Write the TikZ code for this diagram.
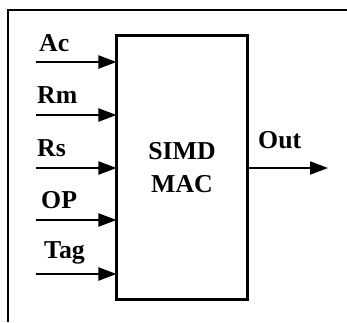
\documentclass[tikz,border=0pt]{standalone}
\usepackage{fontspec}
\setmainfont{Liberation Serif}
\usetikzlibrary{arrows.meta,positioning}

\begin{document}
\begin{tikzpicture}[x=0.03cm, y=-0.03cm,
    unit/.style={rectangle, draw=black, line width=1.8pt, minimum width=3.93cm, minimum height=7.92cm, align=center, inner sep=0pt, outer sep=0pt, font=\fontsize{22}{28}\selectfont\bfseries},
    sig/.style={anchor=base west, inner sep=0pt, font=\fontsize{22}{24}\selectfont\bfseries},
    wire/.style={-{Triangle[length=0.54cm, width=0.39cm]}, line width=1.7pt}]

\useasboundingbox (0,0) rectangle (347,322);
\draw[line width=1.8pt] (8,322) -- (8,10) -- (347,10);

\node[unit] (mac) at (182,167.5) {SIMD\\MAC};

% inputs
\coordinate (ac) at (36,62);
\coordinate (rm) at (36,115);
\coordinate (rs) at (36,168);
\coordinate (op) at (36,220);
\coordinate (tag) at (36,274);

\node[sig] (acl) at (39,51) {Ac};
\node[sig] (rml) at (37,103) {Rm};
\node[sig] (rsl) at (37,156) {Rs};
\node[sig] (opl) at (41,208) {OP};
\node[sig] (tagl) at (44,258) {Tag};

\draw[wire] (ac) -- (ac -| mac.west);
\draw[wire] (rm) -- (rm -| mac.west);
\draw[wire] (rs) -- (rs -| mac.west);
\draw[wire] (op) -- (op -| mac.west);
\draw[wire] (tag) -- (tag -| mac.west);

% output
\coordinate (out) at (328,168);
\node[sig] (outl) at (258,148) {Out};
\draw[wire] (mac.east |- out) -- (out);

\end{tikzpicture}
\end{document}
